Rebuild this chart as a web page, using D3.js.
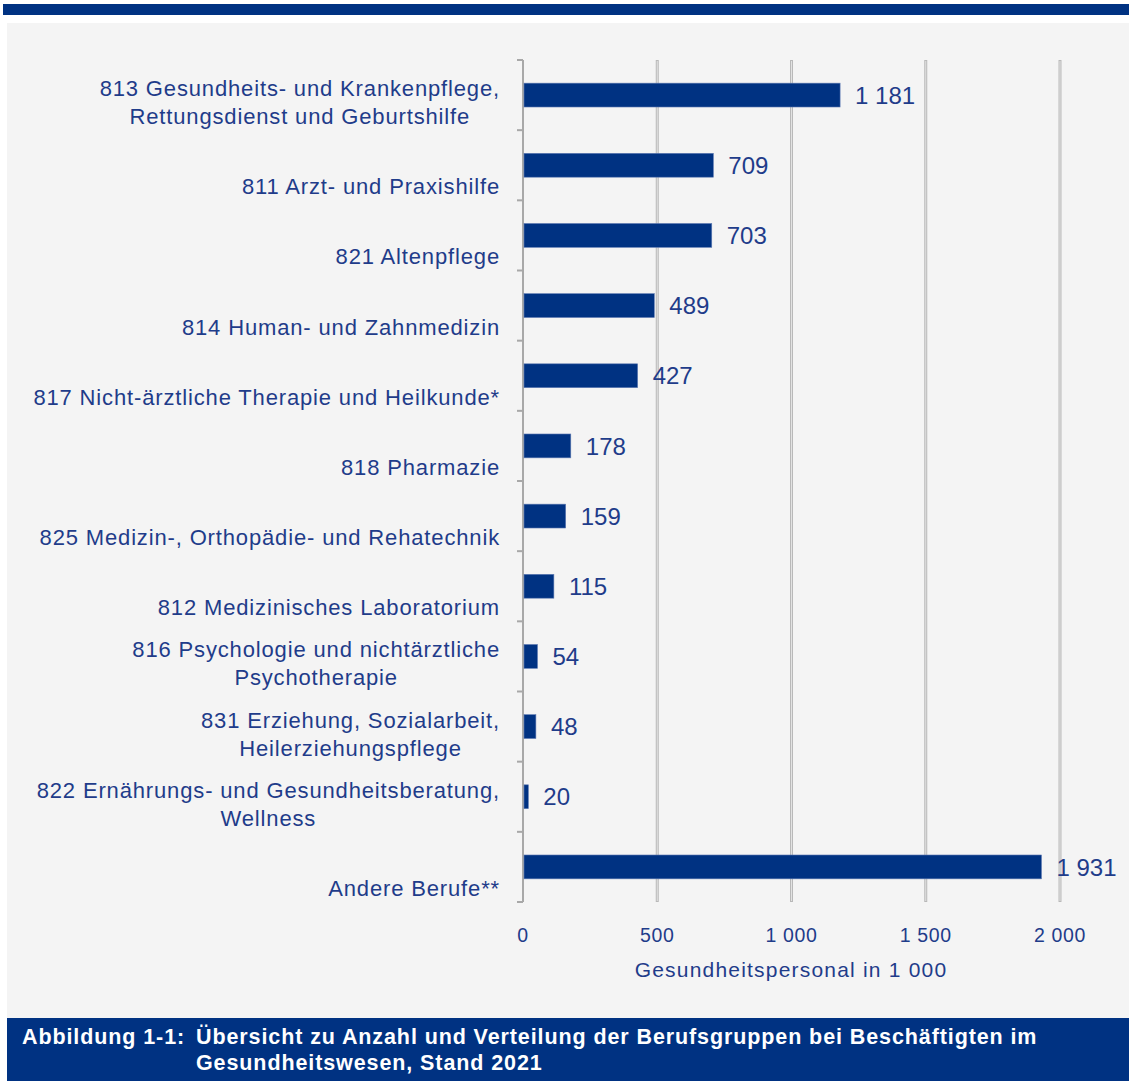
<!DOCTYPE html>
<html>
<head>
<meta charset="utf-8">
<script src="https://cdn.jsdelivr.net/npm/d3@7"></script>
<style>
  body { margin: 0; background: #fff; }
  text { font-family: "Liberation Sans", Arial, sans-serif; }
</style>
</head>
<body>
<div id="chart"></div>
<script>
var width = 1129;
var height = 1081;

// categories (each entry = lines of the label), values in 1 000
var categories = [
  ['813 Gesundheits- und Krankenpflege,', 'Rettungsdienst und Geburtshilfe'],
  ['811 Arzt- und Praxishilfe'],
  ['821 Altenpflege'],
  ['814 Human- und Zahnmedizin'],
  ['817 Nicht-ärztliche Therapie und Heilkunde*'],
  ['818 Pharmazie'],
  ['825 Medizin-, Orthopädie- und Rehatechnik'],
  ['812 Medizinisches Laboratorium'],
  ['816 Psychologie und nichtärztliche', 'Psychotherapie'],
  ['831 Erziehung, Sozialarbeit,', 'Heilerziehungspflege'],
  ['822 Ernährungs- und Gesundheitsberatung,', 'Wellness'],
  ['Andere Berufe**']
];
var values = [1181, 709, 703, 489, 427, 178, 159, 115, 54, 48, 20, 1931];
var ticks = [0, 500, 1000, 1500, 2000];
var axisTitle = 'Gesundheitspersonal in 1 000';
var caption1 = 'Abbildung 1-1:';
var caption2 = ['Übersicht zu Anzahl und Verteilung der Berufsgruppen bei Beschäftigten im', 'Gesundheitswesen, Stand 2021'];

var navy = '#003282';
var textCol = '#1f3c8a';

var de = d3.formatLocale({decimal: ',', thousands: ' ', grouping: [3], currency: ['', ' €']});
var fmt = de.format(',d');

var svg = d3.select('#chart')
  .append('svg')
  .attr('width', width)
  .attr('height', height);

// frame: top stripe, grey panel, caption band
svg.append('rect').attr('x', 3).attr('y', 4).attr('width', width - 3).attr('height', 11).attr('fill', navy);
svg.append('rect').attr('x', 7).attr('y', 23).attr('width', width - 7).attr('height', 995).attr('fill', '#f4f4f4');
svg.append('rect').attr('x', 7).attr('y', 1018).attr('width', width - 7).attr('height', 63).attr('fill', navy);

var keys = categories.map(function(d, i){ return 'c' + i; });

var x = d3.scaleLinear().domain([0, 2000]).range([523, 1060]);
var y = d3.scaleBand().domain(keys).range([60, 902]).paddingInner(0.66).paddingOuter(0.33);
var step = y.step();

// gridlines
var grid = svg.append('g');
ticks.slice(1).forEach(function(t){
  grid.append('line')
    .attr('x1', x(t)).attr('x2', x(t))
    .attr('y1', 60).attr('y2', 902)
    .attr('stroke', '#b9b9b9').attr('stroke-width', 3);
  grid.append('line')
    .attr('x1', x(t)).attr('x2', x(t))
    .attr('y1', 61).attr('y2', 901)
    .attr('stroke', '#e2e2e2').attr('stroke-width', 1);
});

// category axis with boundary ticks
var ax = svg.append('g');
ax.append('line')
  .attr('x1', x(0)).attr('x2', x(0))
  .attr('y1', 60).attr('y2', 902)
  .attr('stroke', '#a8a8a8').attr('stroke-width', 2);
d3.range(categories.length + 1).forEach(function(i){
  ax.append('line')
    .attr('x1', x(0) - 6).attr('x2', x(0))
    .attr('y1', 60 + i * step).attr('y2', 60 + i * step)
    .attr('stroke', '#a8a8a8').attr('stroke-width', 2);
});

// bars
svg.append('g')
  .selectAll('rect')
  .data(values)
  .enter()
  .append('rect')
  .attr('x', x(0) + 1)
  .attr('y', function(d, i){ return y(keys[i]); })
  .attr('width', function(d){ return x(d) - x(0) - 1; })
  .attr('height', y.bandwidth())
  .attr('fill', navy)
  .attr('stroke', '#5f7bb3')
  .attr('stroke-width', 0.6);

// value labels
svg.append('g')
  .selectAll('text')
  .data(values)
  .enter()
  .append('text')
  .text(function(d){ return fmt(d); })
  .attr('x', function(d){ return x(d) + 15; })
  .attr('y', function(d, i){ return y(keys[i]) + y.bandwidth() / 2; })
  .attr('dy', '0.36em')
  .attr('fill', textCol)
  .style('font-size', '24px');

// category labels: last line sits below band centre, multi-line blocks centred
var labelRight = 500;
var lab = svg.append('g');
categories.forEach(function(lines, i){
  var c = y(keys[i]) + y.bandwidth() / 2;
  var n = lines.length;
  var texts = lines.map(function(l, j){
    return lab.append('text')
      .text(l)
      .attr('y', c + 21 - (n - 1 - j) * 28)
      .attr('dy', '0.36em')
      .attr('fill', textCol)
      .style('font-size', '22px')
      .style('letter-spacing', '0.85px');
  });
  var w = d3.max(texts, function(t){ return t.node().getComputedTextLength(); });
  texts.forEach(function(t){
    if (n === 1) t.attr('x', labelRight).attr('text-anchor', 'end');
    else t.attr('x', labelRight - w / 2).attr('text-anchor', 'middle');
  });
});

// x tick labels
svg.append('g')
  .selectAll('text')
  .data(ticks)
  .enter()
  .append('text')
  .text(function(d){ return fmt(d); })
  .attr('x', function(d){ return x(d); })
  .attr('y', 935)
  .attr('dy', '0.36em')
  .attr('text-anchor', 'middle')
  .attr('fill', textCol)
  .style('font-size', '19.5px')
  .style('letter-spacing', '0.6px');

svg.append('text')
  .text(axisTitle)
  .attr('x', 791)
  .attr('y', 969)
  .attr('dy', '0.36em')
  .attr('text-anchor', 'middle')
  .attr('fill', textCol)
  .style('font-size', '21px')
  .style('letter-spacing', '1.2px');

// caption
svg.append('text')
  .text(caption1)
  .attr('x', 22).attr('y', 1044)
  .attr('fill', '#fff')
  .style('font-size', '21.5px').style('font-weight', 'bold')
  .style('letter-spacing', '0.9px');
caption2.forEach(function(l, j){
  svg.append('text')
    .text(l)
    .attr('x', 196).attr('y', 1044 + j * 26)
    .attr('fill', '#fff')
    .style('font-size', '21.5px').style('font-weight', 'bold')
    .style('letter-spacing', '0.9px');
});
</script>
</body>
</html>
